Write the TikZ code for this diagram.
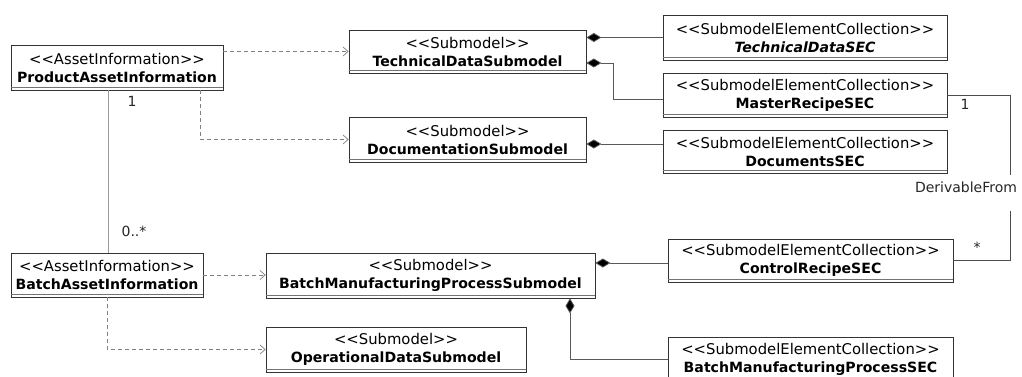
\documentclass[tikz,border=0pt]{standalone}
\usepackage{fontspec}
\setmainfont[Ligatures=TeXOff]{DejaVu Sans}
\usetikzlibrary{arrows.meta}
\newcommand\umlbox[7]{%
  \node[cls, minimum width={(#4-#2)*1pt}, minimum height={(#5-#3)*1pt}] (#1) at ({(#2+#4)/2},{(#3+#5)/2})
    {#6\\{\fontsize{14.1}{18}\selectfont\bfseries #7}};
  \draw[black!55, line width=0.6pt] ([yshift=3pt]#1.south west) -- ([yshift=3pt]#1.south east);
}
\begin{document}
\begin{tikzpicture}[x=1pt,y=-1pt,
  cls/.style={draw=black!80, fill=white, line width=0.8pt, inner sep=0pt, align=center, font=\fontsize{14.8}{18}\selectfont},
  dep/.style={draw=black!50, dash pattern=on 4pt off 3pt, line width=0.7pt, -{Straight Barb[length=5pt,width=9pt]}},
  comp/.style={draw=black!65, line width=0.8pt, {Diamond[length=15pt,width=9pt,fill=black]}-},
  assoc/.style={draw=black!40, line width=0.8pt},
  derive/.style={draw=black!70, line width=0.8pt},
  lbl/.style={font=\fontsize{14}{16}\selectfont, inner sep=0pt, text=black!85},
]
\fill[white] (0,0) rectangle (1022,377);
\useasboundingbox (0,0) rectangle (1022,377);

\umlbox{pai}{11}{45}{223}{90}{<<AssetInformation>>}{ProductAssetInformation}
\umlbox{bai}{11}{253}{203}{297}{<<AssetInformation>>}{BatchAssetInformation}
\umlbox{tds}{349}{30}{586}{73}{<<Submodel>>}{TechnicalDataSubmodel}
\umlbox{doc}{349}{117}{586}{162}{<<Submodel>>}{DocumentationSubmodel}
\umlbox{bmp}{266}{253}{595}{298}{<<Submodel>>}{BatchManufacturingProcessSubmodel}
\umlbox{ops}{266}{327}{526}{372}{<<Submodel>>}{OperationalDataSubmodel}
\umlbox{tdsec}{663}{15}{947}{60}{<<SubmodelElementCollection>>}{\itshape TechnicalDataSEC}
\umlbox{mrsec}{663}{73}{947}{117}{<<SubmodelElementCollection>>}{MasterRecipeSEC}
\umlbox{dsec}{663}{130}{947}{173}{<<SubmodelElementCollection>>}{DocumentsSEC}
\umlbox{crsec}{668}{239}{953}{282}{<<SubmodelElementCollection>>}{ControlRecipeSEC}
\umlbox{bmsec}{668}{337}{953}{382}{<<SubmodelElementCollection>>}{BatchManufacturingProcessSEC}

% dependencies
\draw[dep] (tds.west -| pai.east) -- (tds.west);
\draw[dep] ([xshift=83pt]pai.south) |- (doc.west);
\draw[dep] (bai.east) -- (bai.east -| bmp.west);
\draw[dep] (bai.south) |- (ops.west);

% association between asset informations
\draw[assoc] ([xshift=-9pt]pai.south) -- ([xshift=-9pt]pai.south |- bai.north);
\node[lbl] (m1) at (132,101) {1};
\node[lbl] (m2) at (134,231) {0..*};

% compositions
\draw[comp] (tdsec.west -| tds.east) -- (tdsec.west);
\draw[comp] ([yshift=-11.5pt]tds.east) -- ++(27,0) |- ([yshift=-4pt]mrsec.west);
\draw[comp] ([yshift=-4.5pt]doc.east) -- ([yshift=-4.5pt]doc.east -| dsec.west);
\draw[comp] ([yshift=12.5pt]bmp.east) -- ([yshift=12.5pt]bmp.east -| crsec.west);
\draw[comp] ([xshift=139.5pt]bmp.south) |- (bmsec.west);

% DerivableFrom
\coordinate (d1) at (1010,175);
\coordinate (d2) at (1010,211);
\draw[derive] (mrsec.east) -| (d1);
\draw[derive] (d2) |- (crsec.east);
\node[lbl] (dlab) at (966,187) {DerivableFrom};
\node[lbl] (m3) at (965,104) {1};
\node[lbl] (m4) at (977,247) {*};
\end{tikzpicture}
\end{document}
